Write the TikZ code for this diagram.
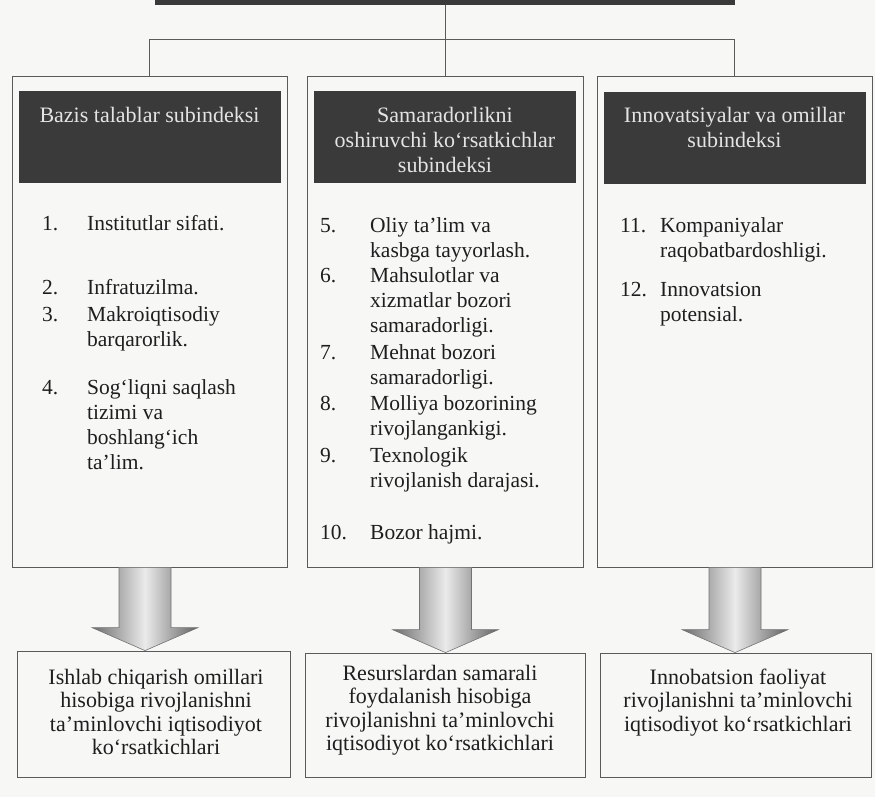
\documentclass[tikz,border=0pt]{standalone}
\usepackage{fontspec}
\setmainfont{Liberation Serif}
\usetikzlibrary{calc}
\definecolor{paper}{RGB}{247,247,245}
\definecolor{hdr}{RGB}{58,58,58}
\definecolor{hdrtext}{RGB}{228,228,228}
\definecolor{edge}{RGB}{90,90,90}
\definecolor{ink}{RGB}{30,30,30}
\begin{document}
\begin{tikzpicture}[x=1pt,y=-1pt,
  frame/.style={draw=edge, line width=0.8pt, inner sep=0pt, minimum height=#1},
  hdrbox/.style={fill=hdr, draw=none, inner sep=0pt},
  hdrtxt/.style={text=hdrtext, inner sep=0pt, anchor=north, font=\fontsize{22}{25}\selectfont},
  numtxt/.style={text=ink, inner sep=0pt, anchor=base west, font=\fontsize{21.5}{25}\selectfont},
  itemtxt/.style={text=ink, inner sep=0pt, anchor=north west, font=\fontsize{21.5}{25}\selectfont},
  outtxt/.style={text=ink, inner sep=0pt, anchor=north, font=\fontsize{22}{23.5}\selectfont},
  conn/.style={draw=edge, line width=0.8pt},
  bigarrow/.style={left color=black!58, right color=black!62, middle color=black!8, draw=black!55, line width=0.6pt}
]
\fill[paper] (0,0) rectangle (875,797);
\useasboundingbox (0,0) rectangle (875,797);

% top bar (cut off at the top of the page)
\node[hdrbox, minimum width=580, minimum height=7] (top) at (445,1.5) {};

% three index boxes
\node[frame=491, minimum width=275] (b1) at (149.5,321.5) {};
\node[frame=491, minimum width=276] (b2) at (445,321.5) {};
\node[frame=491, minimum width=275] (b3) at (734.5,321.5) {};

% connectors
\coordinate (j) at (445,39);
\draw[conn] (top.south) -- (j);
\draw[conn] (b1.north) |- (j);
\draw[conn] (b3.north) |- (j);
\draw[conn] (j) -- (b2.north);

% dark headers
\node[hdrbox, minimum width=262, minimum height=92] (h1) at (149.5,137) {};
\node[hdrbox, minimum width=262, minimum height=92] (h2) at (445,137) {};
\node[hdrbox, minimum width=262, minimum height=92] (h3) at (734.5,138) {};
\node[hdrtxt] (t1) at (149.5,104.5) {\begin{tabular}{@{}c@{}}Bazis talablar subindeksi\end{tabular}};
\node[hdrtxt] (t2) at (445,104.5) {\begin{tabular}{@{}c@{}}Samaradorlikni\\oshiruvchi ko‘rsatkichlar\\subindeksi\end{tabular}};
\node[hdrtxt] (t3) at (734.5,104.5) {\begin{tabular}{@{}c@{}}Innovatsiyalar va omillar\\subindeksi\end{tabular}};

% left list
\node[numtxt] (n1) at (42,230) {1.};
\node[itemtxt] (i1) at (87,212.5) {\begin{tabular}{@{}l@{}}Institutlar sifati.\end{tabular}};
\node[numtxt] (n2) at (42,294) {2.};
\node[itemtxt] (i2) at (87,276.5) {\begin{tabular}{@{}l@{}}Infratuzilma.\end{tabular}};
\node[numtxt] (n3) at (42,321) {3.};
\node[itemtxt] (i3) at (87,303.5) {\begin{tabular}{@{}l@{}}Makroiqtisodiy\\barqarorlik.\end{tabular}};
\node[numtxt] (n4) at (42,394) {4.};
\node[itemtxt] (i4) at (87,376.5) {\begin{tabular}{@{}l@{}}Sog‘liqni saqlash\\tizimi va\\boshlang‘ich\\ta’lim.\end{tabular}};

% middle list
\node[numtxt] (n5) at (320,232) {5.};
\node[itemtxt] (i5) at (370,214.5) {\begin{tabular}{@{}l@{}}Oliy ta’lim va\\kasbga tayyorlash.\end{tabular}};
\node[numtxt] (n6) at (320,282) {6.};
\node[itemtxt] (i6) at (370,264.5) {\begin{tabular}{@{}l@{}}Mahsulotlar va\\xizmatlar bozori\\samaradorligi.\end{tabular}};
\node[numtxt] (n7) at (320,359) {7.};
\node[itemtxt] (i7) at (370,341.5) {\begin{tabular}{@{}l@{}}Mehnat bozori\\samaradorligi.\end{tabular}};
\node[numtxt] (n8) at (320,410) {8.};
\node[itemtxt] (i8) at (370,392.5) {\begin{tabular}{@{}l@{}}Molliya bozorining\\rivojlangankigi.\end{tabular}};
\node[numtxt] (n9) at (320,462) {9.};
\node[itemtxt] (i9) at (370,444.5) {\begin{tabular}{@{}l@{}}Texnologik\\rivojlanish darajasi.\end{tabular}};
\node[numtxt] (n10) at (320,539) {10.};
\node[itemtxt] (i10) at (370,521.5) {\begin{tabular}{@{}l@{}}Bozor hajmi.\end{tabular}};

% right list
\node[numtxt] (n11) at (620,232) {11.};
\node[itemtxt] (i11) at (660,214.5) {\begin{tabular}{@{}l@{}}Kompaniyalar\\raqobatbardoshligi.\end{tabular}};
\node[numtxt] (n12) at (620,296) {12.};
\node[itemtxt] (i12) at (660,278.5) {\begin{tabular}{@{}l@{}}Innovatsion\\potensial.\end{tabular}};

% result boxes
\node[frame=126, minimum width=273] (c1) at (153.5,714) {};
\node[frame=124, minimum width=280] (c2) at (445,715) {};
\node[frame=124, minimum width=271] (c3) at (735.5,715) {};
\node[outtxt] (o1) at (156,667.5) {\begin{tabular}{@{}c@{}}Ishlab chiqarish omillari\\hisobiga rivojlanishni\\ta’minlovchi iqtisodiyot\\ko‘rsatkichlari\end{tabular}};
\node[outtxt] (o2) at (440,663.5) {\begin{tabular}{@{}c@{}}Resurslardan samarali\\foydalanish hisobiga\\rivojlanishni ta’minlovchi\\iqtisodiyot ko‘rsatkichlari\end{tabular}};
\node[outtxt] (o3) at (738,667.5) {\begin{tabular}{@{}c@{}}Innobatsion faoliyat\\rivojlanishni ta’minlovchi\\iqtisodiyot ko‘rsatkichlari\end{tabular}};

% block arrows
\coordinate (s1) at ($(b1.south)+(-4.5,0)$);
\coordinate (e1) at (s1 |- c1.north);
\coordinate (s2) at ($(b2.south)+(0.5,0)$);
\coordinate (e2) at (s2 |- c2.north);
\coordinate (s3) at ($(b3.south)+(0.5,0)$);
\coordinate (e3) at (s3 |- c3.north);
\foreach \s/\e in {s1/e1,s2/e2,s3/e3}{
  \path[bigarrow] ($(\s)+(-26,0)$) -- ($(\s)+(26,0)$) -- ($(\e)+(26,-23)$) -- ($(\e)+(53,-23)$)
    -- (\e) -- ($(\e)+(-53,-23)$) -- ($(\e)+(-26,-23)$) -- cycle;
}
\end{tikzpicture}
\end{document}
